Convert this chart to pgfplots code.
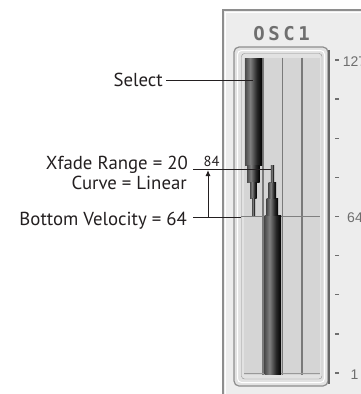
\documentclass[border=0pt]{standalone}
\usepackage{pgfplots}
\pgfplotsset{compat=1.18}
\usepackage{fontspec}
\setmainfont{PT Sans}
\newfontfamily\monofont{DejaVu Sans Mono}
\newfontfamily\scalefont{Liberation Sans}
\usetikzlibrary{arrows.meta}

\definecolor{panel}{HTML}{EDEDED}
\definecolor{frameline}{HTML}{8E8E8E}
\definecolor{framefill}{HTML}{E2E2E2}
\definecolor{slot}{HTML}{D5D5D5}
\definecolor{sep}{HTML}{7A7A7A}
\definecolor{ink}{HTML}{231F20}
\definecolor{scalegrey}{HTML}{6E6E6E}
\definecolor{oscgrey}{HTML}{6F6F6F}

% dark gradient of the velocity bars
\pgfdeclarehorizontalshading{barshade}{100bp}{color(0bp)=(black!70); color(25bp)=(black!70);
  color(40bp)=(black!50); color(60bp)=(black!85); color(75bp)=(black); color(100bp)=(black)}

\newcommand\annot{\fontsize{18.8}{20}\selectfont}

\begin{document}
\begin{tikzpicture}
\pgfplotsset{base/.style={width=361pt, height=394pt, scale only axis, hide axis,
  xmin=0, xmax=361, clip=false, at={(0,0)}, anchor=south west}}

% panel, frame and slots (pixel coordinates)
\begin{axis}[base, ymin=0, ymax=394, y dir=reverse]
\fill[panel] (axis cs:223,10) rectangle (axis cs:380,400);
\draw[frameline, line width=1.2pt] (axis cs:223,400) -- (axis cs:223,10) -- (axis cs:380,10);
\draw[white, line width=1pt] (axis cs:225,400) -- (axis cs:225,12) -- (axis cs:380,12);
\node[font=\monofont\bfseries\fontsize{19}{19}\selectfont, text=oscgrey] at (axis cs:259,33.5) {O};
\node[font=\monofont\bfseries\fontsize{19}{19}\selectfont, text=oscgrey] at (axis cs:274,33.5) {S};
\node[font=\monofont\bfseries\fontsize{19}{19}\selectfont, text=oscgrey] at (axis cs:289,33.5) {C};
\node[font=\monofont\bfseries\fontsize{19}{19}\selectfont, text=oscgrey] at (axis cs:304,33.5) {1};
\draw[frameline, fill=framefill, rounded corners=5pt, line width=1.2pt] (axis cs:234,47) rectangle (axis cs:328,386);
\draw[white, rounded corners=4pt, line width=1pt] (axis cs:237.5,50.5) rectangle (axis cs:324.5,382.5);
\draw[frameline, rounded corners=3pt] (axis cs:241.5,53.5) rectangle (axis cs:322,379);
\fill[slot] (axis cs:244,57.5) rectangle (axis cs:320,374.5);
\draw[sep, line width=1.4pt] (axis cs:263,57.5) -- (axis cs:263,374.5);
\draw[sep, line width=1.4pt] (axis cs:282.5,57.5) -- (axis cs:282.5,374.5);
\draw[sep, line width=1.4pt] (axis cs:302,57.5) -- (axis cs:302,374.5);
\draw[black!60, line width=2pt] (axis cs:328.5,50) -- (axis cs:328.5,384);
\draw[gray, line width=1pt] (axis cs:241,216.5) -- (axis cs:320,216.5);
\draw[gray!80, line width=0.8pt] (axis cs:244,373.8) -- (axis cs:320,373.8);
\end{axis}

% velocity bars and scale (y = velocity)
\begin{axis}[base, ymin=-7.454, ymax=151.15]
% upper layer: full from 84 to 127, crossfade 64..84
\addplot[draw=none, shade, shading=barshade] coordinates {(245,84.5)(262,84.5)(262,127.5)(245,127.5)} -- cycle;
\addplot[draw=none, shade, shading=barshade] coordinates {(247,77.8)(259.5,77.8)(259.5,84.5)(247,84.5)} -- cycle;
\addplot[draw=none, shade, shading=barshade] coordinates {(250,71.2)(256.7,71.2)(256.7,77.8)(250,77.8)} -- cycle;
\addplot[draw=none, shade, shading=barshade] coordinates {(252,64.5)(255,64.5)(255,71.2)(252,71.2)} -- cycle;
% lower layer: full from 1 to 64, crossfade 64..84
\addplot[draw=none, shade, shading=barshade] coordinates {(264.5,0.5)(281,0.5)(281,64.5)(264.5,64.5)} -- cycle;
\addplot[draw=none, shade, shading=barshade] coordinates {(266.7,64.5)(278,64.5)(278,71.2)(266.7,71.2)} -- cycle;
\addplot[draw=none, shade, shading=barshade] coordinates {(268.5,71.2)(276,71.2)(276,77.8)(268.5,77.8)} -- cycle;
\addplot[draw=none, shade, shading=barshade] coordinates {(270.8,77.8)(274,77.8)(274,84.5)(270.8,84.5)} -- cycle;
% scale ticks
\addplot[only marks, mark=-, mark size=2.2pt, mark options={scalegrey, line width=1.4pt}]
  coordinates {(337,1)(337,16.75)(337,32.5)(337,48.25)(337,64)(337,79.75)(337,95.5)(337,111.25)(337,127)};
\node[font=\scalefont\fontsize{14}{14}\selectfont, text=scalegrey] at (axis cs:354.5,126.4) {127};
\node[font=\scalefont\fontsize{14}{14}\selectfont, text=scalegrey] at (axis cs:355,63.4) {64};
\node[font=\scalefont\fontsize{14}{14}\selectfont, text=scalegrey] at (axis cs:354.5,0.4) {1};
\end{axis}

% annotations (pixel coordinates)
\begin{axis}[base, ymin=0, ymax=394, y dir=reverse]
\node[anchor=base east, inner sep=0pt, font=\annot, text=ink] at (axis cs:163,86.7) {Select};
\node[anchor=base east, inner sep=0pt, font=\annot, text=ink] at (axis cs:188,169.3) {Xfade Range = 20};
\node[anchor=base east, inner sep=0pt, font=\annot, text=ink] at (axis cs:187,189) {Curve = Linear};
\node[anchor=base east, inner sep=0pt, font=\annot, text=ink] at (axis cs:187,225) {Bottom Velocity = 64};
\node[anchor=base, inner sep=0pt, font=\fontsize{14.5}{15}\selectfont, text=ink] at (axis cs:211.5,166) {84};
\draw[ink, line width=1pt] (axis cs:166,80.5) -- (axis cs:253,80.5);
\draw[ink, line width=1pt] (axis cs:193,169) -- (axis cs:271,169);
\draw[ink, line width=1pt] (axis cs:193,217) -- (axis cs:241,217);
\draw[ink, line width=1pt, -{Latex[length=6pt, width=5pt]}] (axis cs:208,217) -- (axis cs:208,170);
\end{axis}
\pgfresetboundingbox
\useasboundingbox (0,0) rectangle (361pt,394pt);
\end{tikzpicture}
\end{document}
